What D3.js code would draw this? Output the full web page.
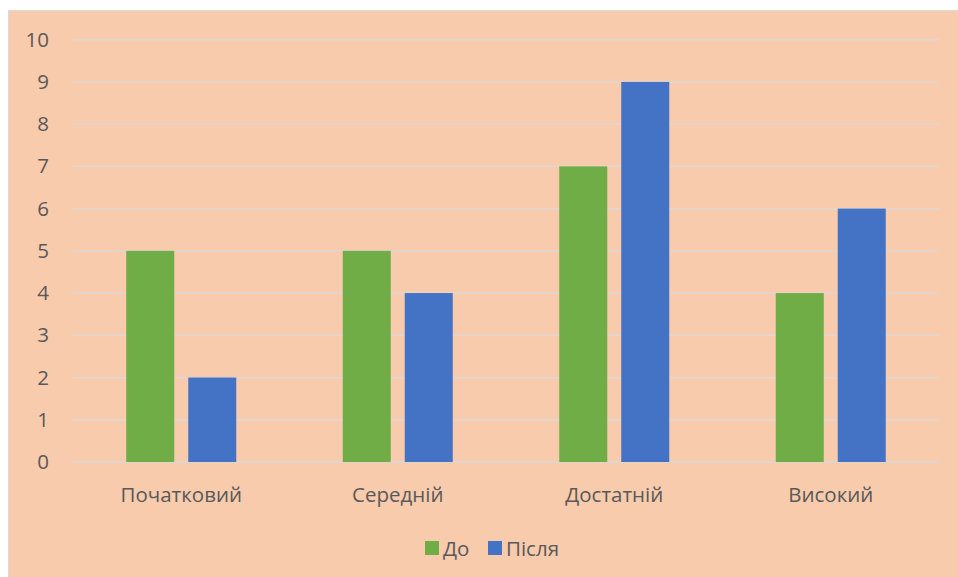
<!DOCTYPE html>
<html>
<head>
<meta charset="utf-8">
<script src="https://cdn.jsdelivr.net/npm/d3@7"></script>
<style>
  body { margin: 0; background: #fff; }
  text { font-family: "Open Sans", "Noto Sans", sans-serif; fill: #595959; }
</style>
</head>
<body>
<div id="chart"></div>
<script>
// chart data
var categories = ["Початковий", "Середній", "Достатній", "Високий"];
var seriesNames = ["До", "Після"];
var before = [5, 5, 7, 4];
var after = [2, 4, 9, 6];
var yTicks = [0, 1, 2, 3, 4, 5, 6, 7, 8, 9, 10];
var colors = ["#70AD47", "#4472C4"];

function renderChart() {
    var width = 958, height = 577;

    var svg = d3.select("#chart")
        .append("svg")
        .attr("width", width)
        .attr("height", height);

    // chart area background with border
    svg.append("rect")
        .attr("x", 8.5)
        .attr("y", 10.5)
        .attr("width", 960)
        .attr("height", 580)
        .attr("fill", "#F8CBAD")
        .attr("stroke", "#D9D9D9")
        .attr("stroke-width", 1);

    var left = 73, right = 939, top = 39.7, bottom = 462;

    var x = d3.scaleBand()
        .domain(categories)
        .range([left, right]);

    var y = d3.scaleLinear()
        .domain([0, 10])
        .range([bottom, top]);

    // gridlines
    svg.append("g")
        .selectAll("line")
        .data(yTicks)
        .enter()
        .append("line")
        .attr("x1", left)
        .attr("x2", right)
        .attr("y1", function (d) { return y(d); })
        .attr("y2", function (d) { return y(d); })
        .attr("stroke", "#D9D9D9")
        .attr("stroke-width", 1.3);

    // y axis labels
    var yAxis = svg.append("g")
        .attr("transform", "translate(" + left + ",0)")
        .call(d3.axisLeft(y).tickValues(yTicks).tickSize(0).tickPadding(24));
    yAxis.select(".domain").remove();
    yAxis.selectAll("text")
        .style("font-size", "20.5px")
        .attr("fill", "#595959");

    // bars
    var barW = 48, gap = 14;
    var rows = categories.map(function (c, i) { return { cat: c, vals: [before[i], after[i]] }; });

    var groups = svg.append("g")
        .selectAll("g")
        .data(rows)
        .enter()
        .append("g")
        .attr("transform", function (d) {
            return "translate(" + (x(d.cat) + x.bandwidth() / 2) + ",0)";
        });

    groups.selectAll("rect")
        .data(function (d) { return d.vals; })
        .enter()
        .append("rect")
        .attr("x", function (d, i) { return i === 0 ? -(barW + gap / 2) : gap / 2; })
        .attr("width", barW)
        .attr("y", function (d) { return y(d); })
        .attr("height", function (d) { return y(0) - y(d); })
        .attr("fill", function (d, i) { return colors[i]; });

    // x axis labels
    var xAxis = svg.append("g")
        .attr("transform", "translate(0," + bottom + ")")
        .call(d3.axisBottom(x).tickSize(0).tickPadding(25));
    xAxis.select(".domain").remove();
    xAxis.selectAll("text")
        .style("font-size", "20.5px")
        .attr("fill", "#595959");

    // legend
    var legend = svg.append("g");
    var legendX = [425, 488];
    var items = legend.selectAll("g")
        .data(seriesNames)
        .enter()
        .append("g")
        .attr("transform", function (d, i) { return "translate(" + legendX[i] + ",541)"; });
    items.append("rect")
        .attr("width", 14)
        .attr("height", 14)
        .attr("fill", function (d, i) { return colors[i]; });
    items.append("text")
        .attr("x", 18)
        .attr("y", 14.5)
        .style("font-size", "20.5px")
        .text(function (d) { return d; });
}
renderChart();
</script>
</body>
</html>
